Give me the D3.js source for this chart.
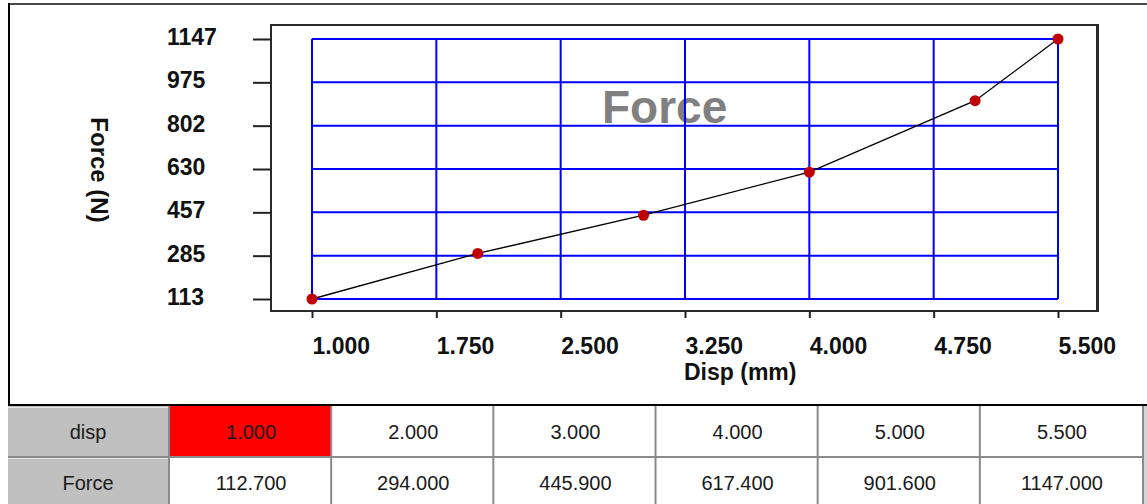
<!DOCTYPE html>
<html>
<head>
<meta charset="utf-8">
<script src="https://cdn.jsdelivr.net/npm/d3@7"></script>
<style>
  html, body { margin: 0; padding: 0; background: #fff; }
  svg { display: block; }
  text { font-family: "Liberation Sans", Arial, sans-serif; }
</style>
</head>
<body>
<script>
// Displacement / force readings
const disp = [1.0, 2.0, 3.0, 4.0, 5.0, 5.5];
const force = [112.7, 294.0, 445.9, 617.4, 901.6, 1147.0];

// Axis ticks
const xTicks = [1.0, 1.75, 2.5, 3.25, 4.0, 4.75, 5.5];
const yTicks = [112.7, 285.08, 457.47, 629.85, 802.23, 974.62, 1147.0];

// Labels
const chartTitle = "Force";
const xTitle = "Disp (mm)";
const yTitle = "Force (N)";
const rowNames = ["disp", "Force"];
const selectedCell = 0;

const W = 1147, H = 504;
const svg = d3.select("body").append("svg").attr("width", W).attr("height", H);
svg.append("rect").attr("width", W).attr("height", H).attr("fill", "#fff");

// Panel border
svg.append("line").attr("x1", 8).attr("x2", W).attr("y1", 4).attr("y2", 4)
  .attr("stroke", "#4a4a4a").attr("stroke-width", 2);
svg.append("line").attr("x1", 9).attr("x2", 9).attr("y1", 3).attr("y2", 406)
  .attr("stroke", "#000").attr("stroke-width", 2);
svg.append("line").attr("x1", 8).attr("x2", W).attr("y1", 405).attr("y2", 405)
  .attr("stroke", "#000").attr("stroke-width", 2);

// Scales
const x = d3.scaleLinear().domain([xTicks[0], xTicks[xTicks.length - 1]]).range([312, 1058]);
const y = d3.scaleLinear().domain([yTicks[0], yTicks[yTicks.length - 1]]).range([299, 39]);

const frame = { left: 271, top: 25, right: 1097, bottom: 311 };

// Title (behind the grid)
svg.append("text").attr("x", 602).attr("y", 123)
  .attr("font-size", 46).attr("font-weight", "bold").attr("fill", "#808080")
  .text(chartTitle);

// Grid
const grid = svg.append("g").attr("stroke", "#0000ff").attr("stroke-width", 2);
grid.selectAll("line.v").data(xTicks).join("line").attr("class", "v")
  .attr("x1", d => x(d)).attr("x2", d => x(d))
  .attr("y1", y(yTicks[0])).attr("y2", y(yTicks[yTicks.length - 1]));
grid.selectAll("line.h").data(yTicks).join("line").attr("class", "h")
  .attr("y1", d => y(d)).attr("y2", d => y(d))
  .attr("x1", x(xTicks[0])).attr("x2", x(xTicks[xTicks.length - 1]));

// Plot frame
svg.append("rect").attr("x", frame.left).attr("y", frame.top)
  .attr("width", frame.right - frame.left).attr("height", frame.bottom - frame.top)
  .attr("fill", "none").attr("stroke", "#2a2a2a").attr("stroke-width", 2);
svg.append("line").attr("x1", frame.right + 0.5).attr("x2", frame.right + 0.5)
  .attr("y1", frame.top - 1).attr("y2", frame.bottom + 1)
  .attr("stroke", "#2a2a2a").attr("stroke-width", 3);

// Y axis
const yAxis = svg.append("g").attr("transform", `translate(${frame.left},0)`)
  .call(d3.axisLeft(y).tickValues(yTicks).tickSize(18).tickFormat(d3.format(".0f")));
yAxis.select(".domain").remove();
yAxis.selectAll(".tick line").attr("stroke", "#222").attr("stroke-width", 2);
yAxis.selectAll(".tick text")
  .attr("x", 167 - frame.left).attr("dy", null).attr("y", 5.5)
  .attr("text-anchor", "start").attr("font-size", 23).attr("font-weight", "bold")
  .attr("fill", "#111").style("font-family", "'Liberation Sans', Arial, sans-serif");

// X axis
const xAxis = svg.append("g").attr("transform", `translate(0,${frame.bottom})`)
  .call(d3.axisBottom(x).tickValues(xTicks).tickSize(7).tickFormat(d3.format(".3f")));
xAxis.select(".domain").remove();
xAxis.selectAll(".tick line").attr("stroke", "#222").attr("stroke-width", 2);
xAxis.selectAll(".tick text")
  .attr("x", 0).attr("dy", null).attr("y", 43)
  .attr("text-anchor", "start").attr("font-size", 23).attr("font-weight", "bold")
  .attr("fill", "#111").style("font-family", "'Liberation Sans', Arial, sans-serif");

// Axis titles
svg.append("text").attr("x", 684).attr("y", 380)
  .attr("font-size", 23).attr("font-weight", "bold").attr("fill", "#111")
  .text(xTitle);
svg.append("text").attr("transform", "translate(99,170) rotate(90)")
  .attr("text-anchor", "middle").attr("dy", "0.35em")
  .attr("font-size", 24).attr("font-weight", "bold").attr("fill", "#111")
  .text(yTitle);

// Series
const pts = disp.map((d, i) => [d, force[i]]);
svg.append("path").datum(pts)
  .attr("d", d3.line().x(d => x(d[0])).y(d => y(d[1])))
  .attr("fill", "none").attr("stroke", "#000").attr("stroke-width", 1.3);
svg.selectAll("circle.pt").data(pts).join("circle").attr("class", "pt")
  .attr("cx", d => x(d[0])).attr("cy", d => y(d[1])).attr("r", 5.5)
  .attr("fill", "#c00000");

// Data table
const col = d3.scaleBand().domain(d3.range(disp.length)).range([170, 1143]);
const row = d3.scaleBand().domain(d3.range(rowNames.length)).range([406, 508]);
const rowValues = [disp, force];
const fmt = d3.format(".3f");
const table = svg.append("g");

rowNames.forEach((name, r) => {
  table.append("rect").attr("x", 8).attr("y", row(r)).attr("width", 161)
    .attr("height", row.bandwidth()).attr("fill", "#c0c0c0");
  table.append("line").attr("x1", 8).attr("x2", 168)
    .attr("y1", row(r) + 1.5).attr("y2", row(r) + 1.5)
    .attr("stroke", "#e6e6e6").attr("stroke-width", 1);
  table.append("text").attr("x", 88).attr("y", row(r) + row.bandwidth() / 2)
    .attr("dy", "0.35em").attr("text-anchor", "middle")
    .attr("font-size", 20).attr("fill", "#1a1a1a").text(name);
  rowValues[r].forEach((v, i) => {
    table.append("rect").attr("x", col(i)).attr("y", row(r))
      .attr("width", col.bandwidth()).attr("height", row.bandwidth())
      .attr("fill", r === 0 && i === selectedCell ? "#ff0000" : "#fff");
    table.append("text").attr("x", col(i) + col.bandwidth() / 2)
      .attr("y", row(r) + row.bandwidth() / 2).attr("dy", "0.35em")
      .attr("text-anchor", "middle").attr("font-size", 20).attr("fill", "#1a1a1a")
      .text(fmt(v));
  });
});

// Cell borders
const borders = table.append("g").attr("stroke", "#8a8a8a").attr("stroke-width", 2);
borders.selectAll("line.c").data(d3.range(disp.length + 1)).join("line").attr("class", "c")
  .attr("x1", i => i < disp.length ? col(i) - 1 : 1143)
  .attr("x2", i => i < disp.length ? col(i) - 1 : 1143)
  .attr("y1", 406).attr("y2", H);
borders.append("line").attr("x1", 8).attr("x2", 1143)
  .attr("y1", row(1)).attr("y2", row(1));
table.append("rect").attr("x", 1144).attr("y", 406).attr("width", 3).attr("height", H - 406)
  .attr("fill", "#d4d4d4");
</script>
</body>
</html>
